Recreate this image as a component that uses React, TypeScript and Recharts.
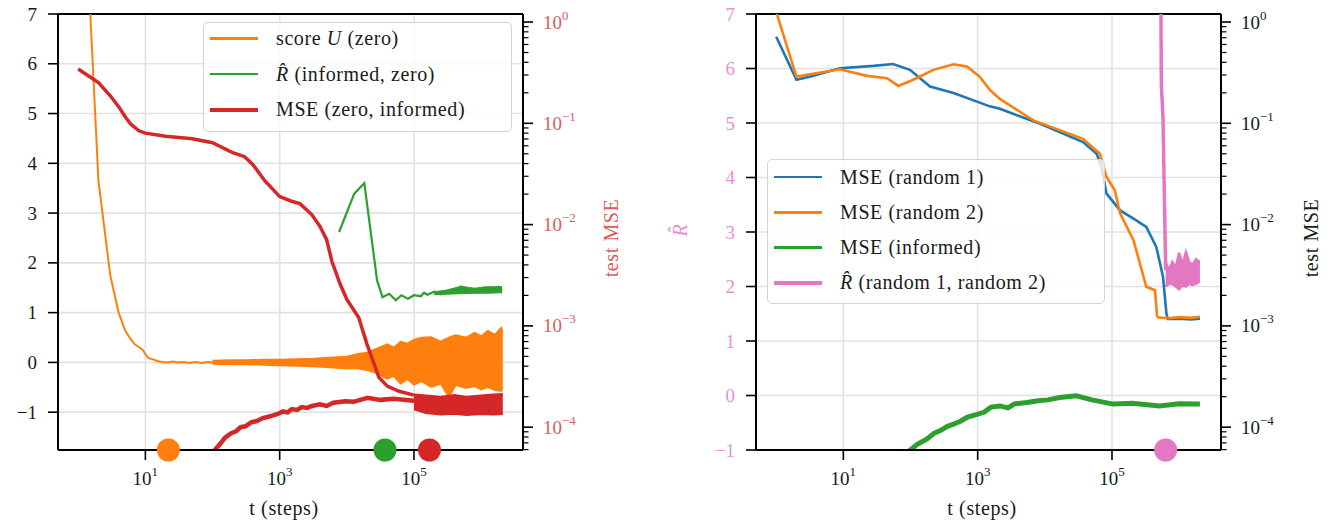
import React from 'react'
import {
  ComposedChart,
  Line,
  Area,
  Scatter,
  XAxis,
  YAxis,
  CartesianGrid,
  ReferenceLine,
} from 'recharts'

const FONT = '"Liberation Serif", "DejaVu Serif", serif'
const FS = 19
const FS_TXT = 20

const C = {
  blue: '#1f77b4',
  orange: '#ff7f0e',
  green: '#2ca02c',
  red: '#d62728',
  pink: '#e377c2',
}

// axes
const T_DOMAIN = [0.5, 4.2e6]
const T_TICKS = [10, 1000, 100000]
const U_TICKS = [-1, 0, 1, 2, 3, 4, 5, 6, 7]
const MSE_DECADES = [1e-5, 1e-4, 1e-3, 1e-2, 1e-1, 1]
const MSE_DOMAIN = [5.95e-5, 1.2]
const MSE_TICKS = MSE_DECADES.flatMap((d) => [1, 2, 3, 4, 5, 6, 7, 8, 9].map((k) => d * k)).filter(
  (v) => v >= MSE_DOMAIN[0] && v <= MSE_DOMAIN[1]
)

// ---- left panel ----
// score U (zero), left axis
const scoreU: [number, number][] = [
  [1, 12], [2, 3.65], [3, 1.75], [4, 1.0], [5, 0.64], [6, 0.47], [7, 0.36], [8, 0.31], [9, 0.26],
  [10, 0.17], [11, 0.09], [13, 0.06], [15, 0.03], [18, 0.01], [22, 0.0], [26, 0.02], [30, 0.0],
  [38, 0.01], [45, -0.01], [55, 0.01], [70, -0.01], [85, 0.01], [100, 0.0],
]
// noisy part of score U: [t, low, high]
const scoreUBand: [number, number, number][] = [
  [100, -0.03, 0.04], [180, -0.04, 0.05], [320, -0.04, 0.05], [560, -0.05, 0.06], [1000, -0.06, 0.06],
  [1800, -0.07, 0.07], [3200, -0.08, 0.08], [5600, -0.1, 0.1], [1e4, -0.13, 0.12], [1.4e4, -0.12, 0.17],
  [2e4, -0.16, 0.2], [2.8e4, -0.22, 0.28], [4e4, -0.33, 0.37], [5e4, -0.28, 0.3], [6.3e4, -0.43, 0.42],
  [8e4, -0.34, 0.38], [1e5, -0.45, 0.46], [1.3e5, -0.38, 0.5], [1.8e5, -0.5, 0.51], [2.5e5, -0.43, 0.42],
  [3.3e5, -0.7, 0.5], [4.2e5, -0.46, 0.55], [6e5, -0.52, 0.5], [8e5, -0.48, 0.6], [1e6, -0.55, 0.53],
  [1.26e6, -0.5, 0.64], [1.6e6, -0.56, 0.56], [2.0e6, -0.58, 0.7], [2.1e6, -0.5, 0.6],
]
// R-hat (informed, zero), left axis
const rhatInfZero: [number, number][] = [
  [7670, 2.62], [12900, 3.39], [18200, 3.6], [28200, 1.65], [33900, 1.31], [42700, 1.38], [53700, 1.25],
  [64600, 1.35], [81300, 1.28], [1e5, 1.35], [1.26e5, 1.33], [1.41e5, 1.4], [1.58e5, 1.36], [2e5, 1.42],
  [2.5e5, 1.37], [3.16e5, 1.43], [4e5, 1.4], [5e5, 1.52], [5.6e5, 1.42], [7e5, 1.47], [9e5, 1.41],
  [1.1e6, 1.5], [1.4e6, 1.43], [1.8e6, 1.52], [2.05e6, 1.45],
]
const rhatInfZeroBand: [number, number, number][] = [
  [2e5, 1.36, 1.42], [3e5, 1.37, 1.45], [5e5, 1.38, 1.53], [8e5, 1.39, 1.49], [1.2e6, 1.39, 1.52], [2.05e6, 1.4, 1.52],
]
// test MSE (zero), right axis
const mseZero: [number, number][] = [
  [1, 0.344], [2, 0.252], [3, 0.187], [4, 0.146], [5, 0.116], [6, 0.099], [8, 0.0843], [10, 0.08],
  [20, 0.0745], [50, 0.0703], [100, 0.0643], [200, 0.0512], [300, 0.0468], [400, 0.039], [600, 0.0271],
  [1000, 0.0189], [1500, 0.017], [2000, 0.0161], [3000, 0.01256], [4000, 0.00955], [5000, 0.00711],
  [6000, 0.00432], [8000, 0.00256], [1e4, 0.00182], [1.5e4, 0.00121], [2e4, 0.000657], [3e4, 0.000311],
  [4e4, 0.000254], [6e4, 0.000226], [1e5, 0.000207],
]
// test MSE (informed), right axis
const mseInformedL: [number, number][] = [
  [79, 4.47e-5], [110, 6.03e-5], [132, 6.92e-5], [155, 7.94e-5], [190, 8.71e-5], [224, 9.12e-5],
  [263, 1.0e-4], [309, 1.02e-4], [380, 1.12e-4], [457, 1.15e-4], [562, 1.23e-4], [660, 1.26e-4],
  [776, 1.3e-4], [933, 1.35e-4], [1122, 1.43e-4], [1318, 1.4e-4], [1514, 1.51e-4], [1820, 1.48e-4],
  [2138, 1.58e-4], [2570, 1.55e-4], [3020, 1.62e-4], [3981, 1.68e-4], [5012, 1.62e-4], [6310, 1.74e-4],
  [9550, 1.8e-4], [12600, 1.78e-4], [20400, 1.95e-4], [31600, 1.86e-4], [50100, 1.91e-4], [1e5, 1.82e-4],
]
const mseTailBand: [number, number, number][] = [
  [1e5, 1.5e-4, 2.1e-4], [1.5e5, 1.38e-4, 2.05e-4], [2.5e5, 1.33e-4, 2.0e-4], [4e5, 1.36e-4, 2.08e-4],
  [6e5, 1.32e-4, 2.0e-4], [1e6, 1.35e-4, 2.06e-4], [1.5e6, 1.33e-4, 2.1e-4], [2.1e6, 1.35e-4, 2.12e-4],
]
const leftMarkers = [22, 37000, 170000]

// ---- right panel ----
const mseRandom1: [number, number][] = [
  [1, 0.716], [2, 0.269], [3.16, 0.289], [8.9, 0.35], [28, 0.369], [55, 0.385], [98, 0.337], [195, 0.231],
  [437, 0.199], [1514, 0.147], [2138, 0.139], [8510, 0.0989], [37000, 0.0653], [59000, 0.0501],
  [69000, 0.038], [83000, 0.0202], [132000, 0.0138], [209000, 0.01146], [324000, 0.00948],
  [457000, 0.00603], [575000, 0.00305], [646000, 0.00133], [676000, 0.00117], [1e6, 0.00118],
  [1.5e6, 0.00116], [2.04e6, 0.00118],
]
const mseRandom2: [number, number][] = [
  [1, 1.26], [2, 0.289], [8.9, 0.342], [22.4, 0.294], [44.7, 0.279], [66, 0.234], [110, 0.269],
  [219, 0.337], [437, 0.383], [692, 0.363], [1072, 0.289], [1514, 0.214], [2138, 0.174], [6760, 0.1067],
  [37000, 0.0703], [66000, 0.0501], [83000, 0.0295], [110000, 0.0218], [132000, 0.0129], [209000, 0.007],
  [324000, 0.00243], [437000, 0.00225], [457000, 0.00155], [468000, 0.00126], [490000, 0.00121],
  [7e5, 0.00119], [1e6, 0.00122], [1.5e6, 0.0012], [2.04e6, 0.00123],
]
const mseInformedR: [number, number][] = [
  [79, 4.47e-5], [98, 5.9e-5], [126, 6.76e-5], [174, 7.6e-5], [224, 8.7e-5], [282, 9.3e-5], [355, 1.02e-4],
  [437, 1.07e-4], [562, 1.15e-4], [708, 1.26e-4], [977, 1.34e-4], [1259, 1.41e-4], [1585, 1.58e-4],
  [2138, 1.62e-4], [2818, 1.55e-4], [3548, 1.7e-4], [5370, 1.75e-4], [7943, 1.82e-4], [11220, 1.86e-4],
  [16600, 1.96e-4], [29500, 2.04e-4], [50100, 1.86e-4], [1.05e5, 1.69e-4], [2e5, 1.72e-4],
  [5.1e5, 1.62e-4], [1e6, 1.7e-4], [2.04e6, 1.69e-4],
]
// R-hat (random 1, random 2), left axis
const rhatRandom: [number, number][] = [
  [5.25e5, 9], [5.43e5, 5.7], [5.75e5, 5.1], [6.3e5, 2.3],
]
const rhatRandomBand: [number, number, number][] = [
  [6.3e5, 2.0, 2.45], [7.1e5, 2.05, 2.3], [7.9e5, 2.05, 2.45], [8.9e5, 2.0, 2.35], [1e6, 1.95, 2.62],
  [1.12e6, 2.02, 2.4], [1.26e6, 2.0, 2.63], [1.41e6, 2.05, 2.45], [1.58e6, 2.03, 2.4], [1.78e6, 2.05, 2.5],
  [2.04e6, 2.1, 2.45],
]
const rightMarkers = [630000]

const pts = (a: [number, number][]) => a.map(([t, v]) => ({ t, v }))
const band = (a: [number, number, number][]) => a.map(([t, lo, hi]) => ({ t, v: [lo, hi] }))

const sup = (e: number) => (e < 0 ? '\u2212' + -e : String(e))

function XTick(p: any) {
  const { x, y, payload } = p
  const e = Math.round(Math.log10(payload.value))
  return (
    <g>
      <line x1={x} x2={x} y1={y} y2={y + 10} stroke="#000" strokeWidth={1.6} />
      <text x={x} y={y + 35} textAnchor="middle" fontFamily={FONT} fontSize={FS} fill="#1a1a1a">
        10<tspan dy={-9} fontSize={13}>{sup(e)}</tspan>
      </text>
    </g>
  )
}

// left ticks: axis x is passed explicitly (plot left edge)
function UTick(p: any) {
  const { ax, y, payload, color } = p
  const v = payload.value
  return (
    <g>
      <line x1={ax - 10} x2={ax} y1={y} y2={y} stroke="#000" strokeWidth={1.6} />
      <text x={ax - 21} y={y + 6.5} textAnchor="end" fontFamily={FONT} fontSize={FS} fill={color}>
        {v < 0 ? '\u2212' + -v : v}
      </text>
    </g>
  )
}

function MseTick(p: any) {
  const { x, y, payload, color } = p
  const lg = Math.log10(payload.value)
  const major = Math.abs(lg - Math.round(lg)) < 1e-6
  return (
    <g>
      <line x1={x} x2={x + (major ? 10 : 5.5)} y1={y} y2={y} stroke="#000" strokeWidth={major ? 1.6 : 1.2} />
      {major && (
        <text x={x + 20} y={y + 6.5} fontFamily={FONT} fontSize={FS} fill={color}>
          10<tspan dy={-9} fontSize={13}>{sup(Math.round(lg))}</tspan>
        </text>
      )}
    </g>
  )
}

const dot = (color: string) => (p: any) => <circle cx={p.cx} cy={p.cy} r={11.5} fill={color} />

const spine = { stroke: '#000', strokeWidth: 2 }

function Legend({ left, top, width, height, rowTop, rowGap, items }: any) {
  return (
    <div
      style={{
        position: 'absolute',
        left,
        top,
        width,
        height,
        boxSizing: 'border-box',
        border: '1.5px solid #d3d3d3',
        borderRadius: 5,
        background: 'rgba(255,255,255,0.8)',
        fontFamily: FONT,
        fontSize: FS_TXT,
        letterSpacing: 0.6,
        color: '#1a1a1a',
      }}
    >
      {items.map((it: any, i: number) => (
        <div key={i} style={{ position: 'absolute', left: 6, top: rowTop + i * rowGap - 15, height: 30, display: 'flex', alignItems: 'center', whiteSpace: 'nowrap' }}>
          <div style={{ width: 48, height: it.w, background: it.color }} />
          <div style={{ marginLeft: 18 }}>{it.label}</div>
        </div>
      ))}
    </div>
  )
}

const Rhat = () => <i>R&#770;</i>

function Rotated({ x, y, color, children }: any) {
  return (
    <div
      style={{
        position: 'absolute',
        left: x,
        top: y,
        transform: 'translate(-50%, -50%) rotate(-90deg)',
        fontFamily: FONT,
        fontSize: FS_TXT,
        letterSpacing: 0.6,
        color,
        whiteSpace: 'nowrap',
      }}
    >
      {children}
    </div>
  )
}

function Label({ x, y, children }: any) {
  return (
    <div style={{ position: 'absolute', left: x, top: y, transform: 'translate(-50%, -50%)', fontFamily: FONT, fontSize: FS_TXT, letterSpacing: 0.6, color: '#1a1a1a', whiteSpace: 'nowrap' }}>
      {children}
    </div>
  )
}

const common = { type: 'linear' as const, dot: false, activeDot: false, isAnimationActive: false, dataKey: 'v' }

export default function App() {
  return (
    <div style={{ position: 'absolute', left: 0, top: 0, width: 1328, height: 523, background: '#fff' }}>
      <div style={{ position: 'absolute', left: 0, top: 0 }}>
        <ComposedChart width={660} height={523} margin={{ top: 14, right: 0, bottom: 0, left: 0 }}>
          <CartesianGrid yAxisId="u" stroke="#e2e2e2" strokeWidth={1.6} />
          <XAxis dataKey="t" type="number" scale="log" domain={T_DOMAIN} ticks={T_TICKS} interval={0} height={73}
            tickSize={0} tickMargin={0} tickLine={false} axisLine={spine} tick={(p: any) => <XTick {...p} />} />
          <YAxis yAxisId="u" orientation="left" width={58} type="number" domain={[-1.76, 7]} allowDataOverflow
            ticks={U_TICKS} interval={0} tickSize={0} tickMargin={0} tickLine={false} axisLine={spine}
            tick={(p: any) => <UTick {...p} ax={58} color="#1a1a1a" />} />
          <YAxis yAxisId="mse" orientation="right" width={137} type="number" scale="log" domain={MSE_DOMAIN} allowDataOverflow
            ticks={MSE_TICKS} interval={0} tickSize={0} tickMargin={0} tickLine={false} axisLine={spine}
            tick={(p: any) => <MseTick {...p} color="#e05a5a" />} />
          <YAxis yAxisId="m" hide width={0} orientation="right" type="number" dataKey="y" domain={[0, 1]} />
          <ReferenceLine yAxisId="u" y={7} stroke="#000" strokeWidth={2} />
          <Line {...common} yAxisId="u" data={pts(scoreU)} stroke={C.orange} strokeWidth={2} />
          <Area {...common} yAxisId="u" data={band(scoreUBand)} stroke={C.orange} strokeWidth={1.5} fill={C.orange} fillOpacity={1} />
          <Line {...common} yAxisId="u" data={pts(rhatInfZero)} stroke={C.green} strokeWidth={2.2} />
          <Area {...common} yAxisId="u" data={band(rhatInfZeroBand)} stroke={C.green} strokeWidth={1} fill={C.green} fillOpacity={1} />
          <Line {...common} yAxisId="mse" data={pts(mseZero)} stroke={C.red} strokeWidth={3.5} />
          <Line {...common} yAxisId="mse" data={pts(mseInformedL)} stroke={C.red} strokeWidth={4.5} />
          <Area {...common} yAxisId="mse" data={band(mseTailBand)} stroke={C.red} strokeWidth={2} fill={C.red} fillOpacity={1} />
          {leftMarkers.map((t, i) => (
            <Scatter key={i} yAxisId="m" data={[{ t, y: 0 }]} isAnimationActive={false}
              shape={dot([C.orange, C.green, C.red][i])} />
          ))}
        </ComposedChart>
      </div>

      <div style={{ position: 'absolute', left: 660, top: 0 }}>
        <ComposedChart width={668} height={523} margin={{ top: 14, right: 0, bottom: 0, left: 0 }}>
          <CartesianGrid yAxisId="u" stroke="#e2e2e2" strokeWidth={1.6} />
          <XAxis dataKey="t" type="number" scale="log" domain={T_DOMAIN} ticks={T_TICKS} interval={0} height={73}
            tickSize={0} tickMargin={0} tickLine={false} axisLine={spine} tick={(p: any) => <XTick {...p} />} />
          <YAxis yAxisId="u" orientation="left" width={96} type="number" domain={[-1, 7]} allowDataOverflow
            ticks={U_TICKS} interval={0} tickSize={0} tickMargin={0} tickLine={false} axisLine={spine}
            tick={(p: any) => <UTick {...p} ax={96} color="#ea8fd2" />} />
          <YAxis yAxisId="mse" orientation="right" width={107} type="number" scale="log" domain={MSE_DOMAIN} allowDataOverflow
            ticks={MSE_TICKS} interval={0} tickSize={0} tickMargin={0} tickLine={false} axisLine={spine}
            tick={(p: any) => <MseTick {...p} color="#1a1a1a" />} />
          <YAxis yAxisId="m" hide width={0} orientation="right" type="number" dataKey="y" domain={[0, 1]} />
          <ReferenceLine yAxisId="u" y={7} stroke="#000" strokeWidth={2} />
          <Line {...common} yAxisId="mse" data={pts(mseRandom1)} stroke={C.blue} strokeWidth={2.6} />
          <Line {...common} yAxisId="mse" data={pts(mseRandom2)} stroke={C.orange} strokeWidth={2.6} />
          <Line {...common} yAxisId="mse" data={pts(mseInformedR)} stroke={C.green} strokeWidth={5} />
          <Line {...common} yAxisId="u" data={pts(rhatRandom)} stroke={C.pink} strokeWidth={3.5} />
          <Area {...common} yAxisId="u" data={band(rhatRandomBand)} stroke={C.pink} strokeWidth={2.5} fill={C.pink} fillOpacity={1} />
          {rightMarkers.map((t, i) => (
            <Scatter key={i} yAxisId="m" data={[{ t, y: 0 }]} isAnimationActive={false} shape={dot(C.pink)} />
          ))}
        </ComposedChart>
      </div>

      <Legend left={203} top={22} width={309} height={110} rowTop={15.5} rowGap={35.7}
        items={[
          { color: C.orange, w: 2.5, label: <span>score <i>U</i> (zero)</span> },
          { color: C.green, w: 2.5, label: <span><Rhat /> (informed, zero)</span> },
          { color: C.red, w: 4.5, label: <span>MSE (zero, informed)</span> },
        ]} />
      <Legend left={767} top={159} width={338} height={145} rowTop={17} rowGap={35.3}
        items={[
          { color: C.blue, w: 2.5, label: <span>MSE (random 1)</span> },
          { color: C.orange, w: 2.5, label: <span>MSE (random 2)</span> },
          { color: C.green, w: 2.5, label: <span>MSE (informed)</span> },
          { color: C.pink, w: 4.5, label: <span><Rhat /> (random 1, random 2)</span> },
        ]} />

      <Label x={284} y={508}>t (steps)</Label>
      <Label x={982} y={508}>t (steps)</Label>
      <Rotated x={611} y={238} color="#e05a5a">test MSE</Rotated>
      <Rotated x={1311} y={238} color="#1a1a1a">test MSE</Rotated>
      <Rotated x={680} y={230} color="#ea8fd2"><Rhat /></Rotated>
    </div>
  )
}
